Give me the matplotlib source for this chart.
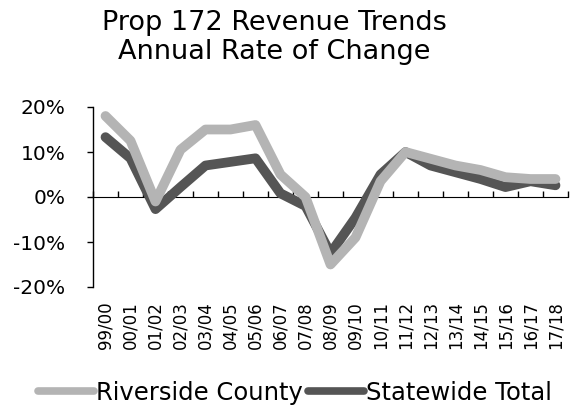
import matplotlib
matplotlib.use("Agg")
import matplotlib.pyplot as plt
import numpy as np

years = ["99/00", "00/01", "01/02", "02/03", "03/04", "04/05", "05/06", "06/07",
         "07/08", "08/09", "09/10", "10/11", "11/12", "12/13", "13/14", "14/15",
         "15/16", "16/17", "17/18"]
riverside = [18, 12.5, -1, 10.5, 15, 15, 16, 5, 0, -15, -9, 3.5, 10, 8.5, 7, 6, 4.4, 4, 4]
statewide = [13.3, 8.6, -2.7, 2.2, 7, 7.8, 8.6, 0.8, -2, -12.5, -4.6, 5, 10, 7, 5.5, 4, 2.2, 3.5, 2.6]
yticks = [-20, -10, 0, 10, 20]

plt.rcParams['font.family'] = ['DejaVu Sans']

fig = plt.figure(figsize=(5.71, 4.12), dpi=100)
ax = fig.add_axes([93/571, 1-287/412, 475/571, 180/412])

x = np.arange(len(years))
ax.plot(x, riverside, color="#b4b4b4", lw=7, solid_joinstyle='round', solid_capstyle='round',
        label="Riverside County", zorder=3)
ax.plot(x, statewide, color="#555555", lw=7, solid_joinstyle='round', solid_capstyle='round',
        label="Statewide Total", zorder=2)

ax.set_xlim(-0.5, len(years) - 0.5)
ax.set_ylim(-20, 20)
ax.set_yticks(yticks)
ax.set_yticklabels([f"{v}%" for v in yticks], fontsize=14.5)
ax.tick_params(axis='y', length=4, width=1, pad=16)

ax.set_xticks(x)
ax.set_xticklabels(years, rotation=90, fontsize=12)
ax.tick_params(axis='x', length=0, pad=10)

for s in ['top', 'right', 'bottom']:
    ax.spines[s].set_visible(False)
ax.spines['left'].set_linewidth(1)

sec = ax.secondary_xaxis(0.5)
sec.set_xticks(np.arange(len(years) + 1) - 0.5)
sec.set_xticklabels([])
sec.tick_params(axis='x', length=4, width=1, direction='out')
sec.spines['bottom'].set_linewidth(1.2)

fig.suptitle("Prop 172 Revenue Trends\nAnnual Rate of Change", fontsize=19.5, x=0.48, y=0.975,
             linespacing=1.15)

leg = ax.legend(loc='center', bbox_to_anchor=(0.517, 1-393/412), bbox_transform=fig.transFigure,
                ncol=2, frameon=False, fontsize=17.5, handlelength=2.3, handletextpad=0.1,
                columnspacing=0.2, borderpad=0)
for h in leg.get_lines():
    h.set_linewidth(5.5)

fig.savefig("out.png", dpi=100)
